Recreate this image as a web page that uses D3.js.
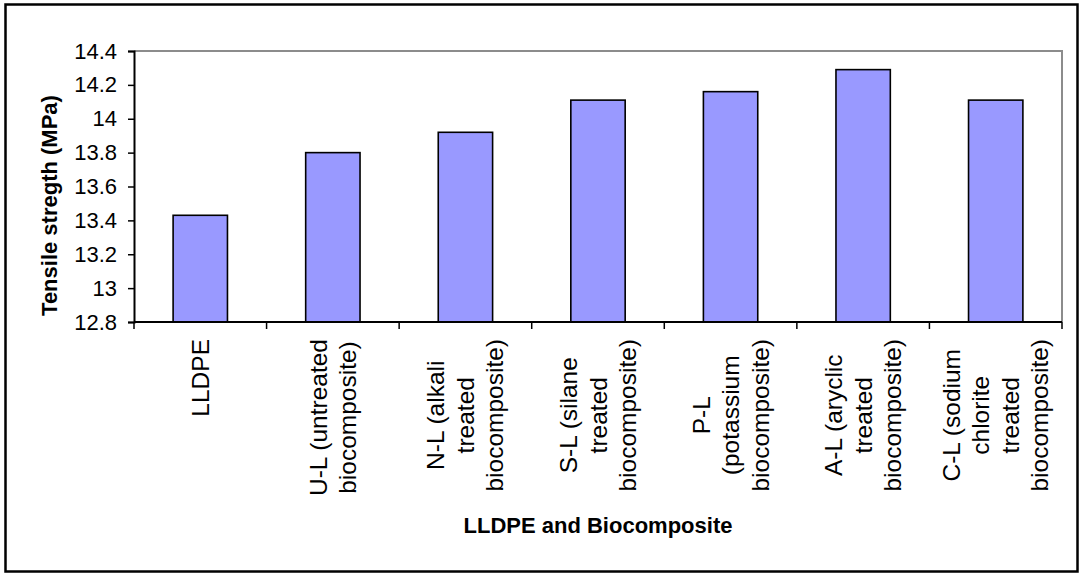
<!DOCTYPE html>
<html>
<head>
<meta charset="utf-8">
<script src="https://cdn.jsdelivr.net/npm/d3@7"></script>
<style>
  html, body { margin: 0; padding: 0; background: #fff; }
  svg { display: block; font-family: "Liberation Sans", Arial, sans-serif; }
</style>
</head>
<body>
<svg id="chart" width="1082" height="576"></svg>
<script>
const categories = [
  ["LLDPE"],
  ["U-L (untreated", "biocomposite)"],
  ["N-L (alkali", "treated", "biocomposite)"],
  ["S-L (silane", "treated", "biocomposite)"],
  ["P-L", "(potassium", "biocomposite)"],
  ["A-L (aryclic", "treated", "biocomposite)"],
  ["C-L (sodium", "chlorite", "treated", "biocomposite)"]
];
const values = [13.43, 13.80, 13.92, 14.11, 14.16, 14.29, 14.11];
const yTicks = [12.8, 13, 13.2, 13.4, 13.6, 13.8, 14, 14.2, 14.4];
const yTitle = "Tensile stregth (MPa)";
const xTitle = "LLDPE and Biocomposite";

const svg = d3.select("#chart");
const mLeft = 134, mRight = 1062, mTop = 51, mBottom = 322;

// outer frame
svg.append("rect").attr("x", 5.5).attr("y", 4.5).attr("width", 1072).attr("height", 567)
  .attr("fill", "#fff").attr("stroke", "#000").attr("stroke-width", 2.5);

const x = d3.scaleBand().domain(d3.range(categories.length)).range([mLeft, mRight])
  .paddingInner(0.59).paddingOuter(0.295);
const xb = d3.scaleBand().domain(d3.range(categories.length)).range([mLeft, mRight]);
const y = d3.scaleLinear().domain([12.8, 14.4]).range([mBottom, mTop]);

// plot border top/right (gray)
svg.append("path").attr("d", `M${mLeft},${mTop}H${mRight}V${mBottom}`)
  .attr("fill", "none").attr("stroke", "#8c8c8c").attr("stroke-width", 2);

// bars
svg.append("g").selectAll("rect").data(values).join("rect")
  .attr("x", (d, i) => x(i)).attr("width", x.bandwidth())
  .attr("y", d => y(d)).attr("height", d => y(12.8) - y(d))
  .attr("fill", "#9999ff").attr("stroke", "#000").attr("stroke-width", 1.6);

// y axis
const yAxis = d3.axisLeft(y).tickValues(yTicks).tickSize(6).tickPadding(11)
  .tickFormat(d => String(+d.toFixed(1)));
const gy = svg.append("g").attr("transform", `translate(${mLeft},0)`).call(yAxis);
gy.select(".domain").attr("stroke", "#000").attr("stroke-width", 2);
gy.selectAll(".tick line").attr("stroke", "#000").attr("stroke-width", 1.5);
gy.selectAll(".tick text").attr("font-size", 22).attr("fill", "#000")
  .attr("font-family", "Liberation Sans, Arial, sans-serif");

// x axis line and boundary ticks
const boundaries = d3.range(categories.length + 1).map(i => i === categories.length ? mRight : xb(i));
svg.append("line").attr("x1", mLeft).attr("x2", mRight).attr("y1", mBottom).attr("y2", mBottom)
  .attr("stroke", "#000").attr("stroke-width", 2);
svg.append("g").selectAll("line").data(boundaries).join("line")
  .attr("x1", d => d).attr("x2", d => d).attr("y1", mBottom).attr("y2", mBottom + 7)
  .attr("stroke", "#000").attr("stroke-width", 1.5);

// x labels (rotated, multi-line, centered)
const lineH = 29.5;
const labelTop = 339;
const lg = svg.append("g");
categories.forEach((lines, i) => {
  const cx = xb(i) + xb.bandwidth() / 2;
  const g = lg.append("g");
  const texts = lines.map((t) => g.append("text").text(t)
    .attr("font-size", 24.5).attr("fill", "#000").attr("text-anchor", "middle"));
  const maxLen = d3.max(texts, t => t.node().getComputedTextLength());
  const cy = labelTop + maxLen / 2;
  texts.forEach((t, k) => {
    const off = (k - (lines.length - 1) / 2) * lineH;
    const px = cx + off + 8.5;
    t.attr("transform", `translate(${px},${cy}) rotate(-90)`);
  });
});

// y title
svg.append("text").text(yTitle)
  .attr("transform", `translate(${57},${205.5}) rotate(-90)`)
  .attr("text-anchor", "middle").attr("font-weight", "bold").attr("font-size", 22).attr("fill", "#000");

// x title
svg.append("text").text(xTitle)
  .attr("x", (mLeft + mRight) / 2).attr("y", 533)
  .attr("text-anchor", "middle").attr("font-weight", "bold").attr("font-size", 22).attr("fill", "#000");
</script>
</body>
</html>
